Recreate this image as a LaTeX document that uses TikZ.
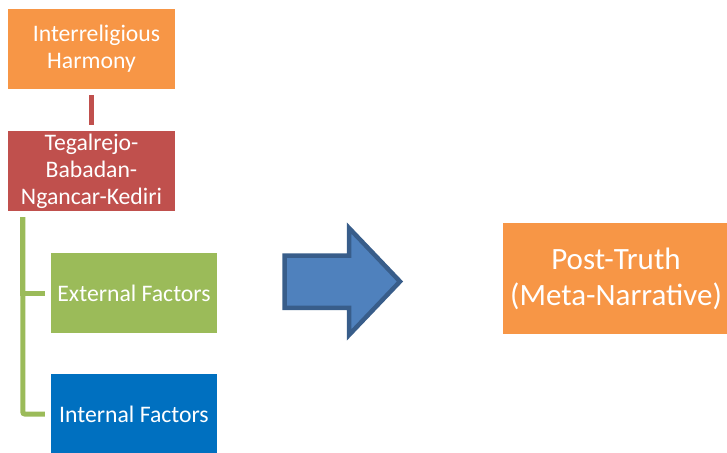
\documentclass[tikz,border=0pt]{standalone}
\usepackage{fontspec}
\setmainfont{Carlito}
\definecolor{boxorange}{HTML}{F79646}
\definecolor{boxred}{HTML}{C0504D}
\definecolor{boxgreen}{HTML}{9BBB59}
\definecolor{boxblue}{HTML}{0070C0}
\definecolor{arrowfill}{HTML}{4F81BD}
\definecolor{arrowline}{HTML}{385D8A}

\begin{document}
\begin{tikzpicture}[x=1pt,y=-1pt,
    box/.style={rectangle,inner sep=0pt,text=white,align=center,
      minimum width=167pt,minimum height=80pt,
      font=\fontsize{23.7}{27}\selectfont},
    conn/.style={line width=5pt}]
    \useasboundingbox (0,0) rectangle (727,452);

    \node[box,fill=boxorange] (harmony) at (91.5,49) {\hspace*{10pt}Interreligious\\Harmony};
    \node[box,fill=boxred] (tegal) at (91.5,171) {Tegalrejo-\\Babadan-\\Ngancar-Kediri};
    \node[box,fill=boxgreen,minimum width=166pt] (external) at (134,293) {External Factors};
    \node[box,fill=boxblue,minimum width=166pt] (internal) at (134,414) {Internal Factors};

    \node[box,fill=boxorange,minimum width=226pt,minimum height=111pt,
      font=\fontsize{31}{36}\selectfont] (posttruth) at (616,278.5)
      {Post-Truth\\(Meta-Narrative)};

    \draw[conn,boxred,shorten <=6pt,shorten >=6pt] (harmony) -- (tegal);

    \draw[conn,boxgreen]
      ([xshift=15pt,yshift=-6pt]tegal.south west) |- ([xshift=-6pt]external.west);
    \draw[conn,boxgreen,rounded corners=2pt]
      ([xshift=15pt,yshift=-6pt]tegal.south west) |- ([xshift=-6pt]internal.west);

    % big arrow
    \draw[fill=arrowfill,draw=arrowline,line width=4.5pt,line join=miter]
      (284.5,255.5) -- (349,255.5) -- (349,228) -- (400,281.5) -- (349,335)
      -- (349,307.8) -- (284.5,307.8) -- cycle;
\end{tikzpicture}
\end{document}
